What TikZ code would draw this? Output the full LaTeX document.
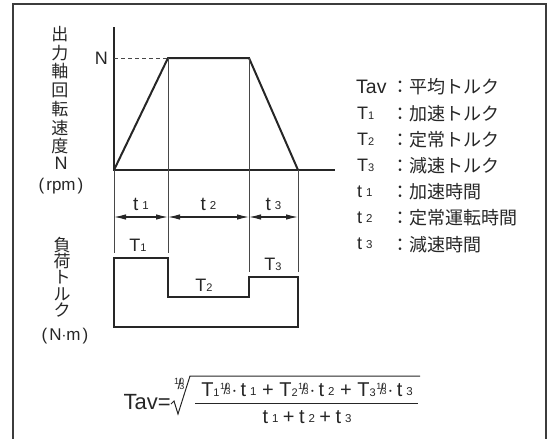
\documentclass[tikz,border=0pt]{standalone}
\usepackage{fontspec}
\setmainfont{Liberation Sans}
\newfontfamily\jp{Noto Sans CJK JP}
\usetikzlibrary{arrows.meta, positioning}
\definecolor{ink}{gray}{0.15}
\tikzstyle{profile} = [
    line width=2pt,
    draw=ink,
    line join=miter
]
\tikzstyle{guide} = [
    line width=0.9pt,
    draw=ink!85
]
\tikzstyle{dimarrow} = [
    line width=1.1pt,
    draw=ink,
    {Latex[length=12pt,width=5.5pt]}-{Latex[length=12pt,width=5.5pt]}
]
\tikzstyle{tlabel} = [
    font=\fontsize{18}{18}\selectfont,
    text=ink,
    inner sep=0pt
]
\tikzstyle{axislabel} = [
    font=\fontsize{17}{17}\selectfont\jp,
    text=ink,
    inner sep=0pt
]
\tikzstyle{legendtext} = [
    font=\fontsize{18}{18}\selectfont,
    text=ink,
    inner sep=0pt,
    anchor=west
]
\tikzstyle{formula} = [
    font=\fontsize{20}{20}\selectfont,
    text=ink,
    inner sep=0pt
]
\newcommand{\sfx}[1]{{\fontsize{11}{11}\selectfont #1}}
\newcommand{\tsfx}[1]{\kern4pt\raisebox{1pt}{\fontsize{11.5}{11.5}\selectfont #1}}
\newcommand{\tenth}{\kern0.5pt\raisebox{7pt}{\fontsize{9}{9}\selectfont 10}\kern-6.5pt\raisebox{2.5pt}{\fontsize{14}{14}\selectfont /}\kern-2pt\raisebox{2pt}{\fontsize{9}{9}\selectfont 3}}

\begin{document}
\begin{tikzpicture}[x=1pt, y=-1pt]
    \useasboundingbox (0,0) rectangle (550,439);

    % Frame
    \coordinate (f0) at (13,439);
    \coordinate (f1) at (13,4);
    \coordinate (f2) at (546,4);
    \coordinate (f3) at (546,439);
    \draw [line width=2pt, ink!90] (f0) -- (f1) -- (f2) -- (f3);

    % Speed profile
    \coordinate (O) at (114,170);
    \coordinate (Ytop) at (114,27);
    \coordinate (Xend) at (335,170);
    \coordinate (Nlev) at (114,58);
    \coordinate (A) at (168,58);
    \coordinate (B) at (249,58);
    \coordinate (C) at (298,170);
    \draw [profile] (Ytop) -- (O) -- (Xend);
    \draw [profile] (O) -- (A) -- (B) -- (C);
    \draw [guide, dashed, dash pattern=on 4pt off 3pt] (Nlev) -- (A);
    \node (N) [tlabel, left=6pt of Nlev] {N};

    % Guide lines
    \coordinate (g0) at (114,253);
    \coordinate (g1) at (168,253);
    \coordinate (g2) at (249,272);
    \coordinate (g3) at (298,272);
    \draw [guide] (O) -- (g0);
    \draw [guide] (A) -- (g1);
    \draw [guide] (B) -- (g2);
    \draw [guide] (C) -- (g3);

    % Time intervals
    \coordinate (d0) at (114,217);
    \coordinate (d1) at (168,217);
    \coordinate (d2) at (249,217);
    \coordinate (d3) at (298,217);
    \draw [dimarrow] (d0) -- (d1) node[midway, above=6pt, tlabel, font=\fontsize{19}{19}\selectfont] (t1) {t\tsfx{1}};
    \draw [dimarrow] (d1) -- (d2) node[midway, above=6pt, tlabel, font=\fontsize{19}{19}\selectfont] (t2) {t\tsfx{2}};
    \draw [dimarrow] (d2) -- (d3) node[midway, above=6pt, tlabel, font=\fontsize{19}{19}\selectfont] (t3) {t\tsfx{3}};

    % Torque profile
    \coordinate (q0) at (114,258);
    \coordinate (q1) at (168,258);
    \coordinate (q2) at (168,297);
    \coordinate (q3) at (249,297);
    \coordinate (q4) at (249,277);
    \coordinate (q5) at (298,277);
    \coordinate (q6) at (298,327);
    \coordinate (q7) at (114,327);
    \draw [profile] (q0) -- (q1) -- (q2) -- (q3) -- (q4) -- (q5) -- (q6) -- (q7) -- cycle;
    \node (T1) [tlabel] at (138,245) {T\sfx{1}};
    \node (T2) [tlabel] at (204,285) {T\sfx{2}};
    \node (T3) [tlabel] at (273,264) {T\sfx{3}};

    % Axis labels
    \foreach \ch [count=\i] in {出,力,軸,回,転,速,度}
        \node (sp\i) [axislabel] at (60,{34+18.7*(\i-1)}) {\ch};
    \node (spN) [tlabel] at (61,163) {N};
    \node (spU) [tlabel, font=\fontsize{17}{17}\selectfont] at (61,186) {(\kern2pt rpm\kern2pt)};
    \foreach \ch [count=\i] in {負,荷,ト,ル,ク}
        \node (tq\i) [axislabel] at (62,{245+16.3*(\i-1)}) {\ch};
    \node (tqU) [tlabel, font=\fontsize{17}{17}\selectfont] at (65,336) {(\kern2pt N$\cdot$m\kern2pt)};

    % Legend
    \node (k1) [legendtext, font=\fontsize{19.5}{19.5}\selectfont] at (356,87) {Tav};
    \node (k2) [legendtext] at (357,113.2) {T\sfx{1}};
    \node (k3) [legendtext] at (357,139.4) {T\sfx{2}};
    \node (k4) [legendtext] at (357,165.6) {T\sfx{3}};
    \node (k5) [legendtext] at (357,191.8) {t\tsfx{1}};
    \node (k6) [legendtext] at (357,218) {t\tsfx{2}};
    \node (k7) [legendtext] at (357,244.2) {t\tsfx{3}};
    \node (v1) [legendtext] at (391,87) {\jp ：平均トルク};
    \node (v2) [legendtext] at (391,113.2) {\jp ：加速トルク};
    \node (v3) [legendtext] at (391,139.4) {\jp ：定常トルク};
    \node (v4) [legendtext] at (391,165.6) {\jp ：減速トルク};
    \node (v5) [legendtext] at (391,191.8) {\jp ：加速時間};
    \node (v6) [legendtext] at (391,218) {\jp ：定常運転時間};
    \node (v7) [legendtext] at (391,244.2) {\jp ：減速時間};

    % Formula
    \node (tav) [formula, font=\fontsize{22}{22}\selectfont, anchor=east] at (171,402) {Tav=};
    \node (idx) [formula] at (179,385) {\tenth};
    \coordinate (r0) at (171,404);
    \coordinate (r1) at (174,401);
    \coordinate (r2) at (178,414);
    \coordinate (r3) at (190,376);
    \coordinate (r4) at (420,376);
    \draw [line width=1pt, ink] (r0) -- (r1) -- (r2) -- (r3) -- (r4);
    \node (num) [formula] at (307,390)
        {T\sfx{1}\tenth\kern1pt$\cdot$\,t\tsfx{1}\;+\;T\sfx{2}\tenth\kern1pt$\cdot$\,t\tsfx{2}\;+\;T\sfx{3}\tenth\kern1pt$\cdot$\,t\tsfx{3}};
    \coordinate (b0) at (195,403);
    \coordinate (b1) at (418,403);
    \draw [line width=1pt, ink] (b0) -- (b1);
    \node (den) [formula] at (307,417)
        {t\tsfx{1}\:+\:t\tsfx{2}\:+\:t\tsfx{3}};
\end{tikzpicture}
\end{document}
